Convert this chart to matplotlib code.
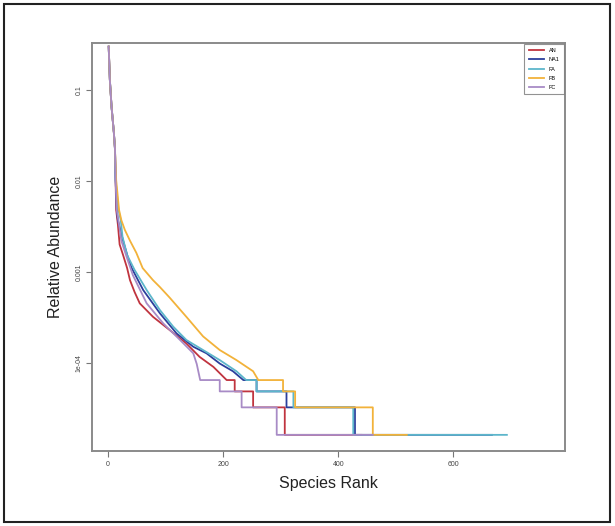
"""
Rank-abundance curves for five samples (log-scaled relative abundance).
Produces: out.png
"""
import matplotlib.pyplot as plt
from matplotlib.patches import Rectangle

# ── Data (rank, relative abundance) ──────────────────────────────────────────
samples = ["AN", "NA1", "FA", "FB", "FC"]

AN_rank = [1, 3, 6, 10, 12, 13, 14, 17, 20, 26, 33, 38, 46, 55, 78, 107, 136,
           159, 183, 206, 220, 220, 252, 252, 307, 307, 440]
AN_abund = [0.30, 0.13, 0.065, 0.034, 0.022, 0.0102, 0.0048, 0.0033, 0.0020,
            0.00153, 0.0011, 0.00081, 0.0006, 0.00045, 0.00032, 0.000229,
            0.000163, 0.000116, 0.00009, 6.45e-5, 6.45e-5, 4.84e-5, 4.84e-5,
            3.23e-5, 3.23e-5, 1.61e-5, 1.61e-5]

NA1_rank = [1, 3, 6, 10, 12, 13, 15, 17, 26, 34, 41, 61, 90, 119, 148, 171, 194,
            217, 235, 258, 258, 310, 310, 429, 429, 667]
NA1_abund = [0.30, 0.13, 0.065, 0.034, 0.022, 0.0102, 0.0048, 0.0037, 0.0022,
             0.00147, 0.0011, 0.00063, 0.00035, 0.00021, 0.00015, 0.000127,
             0.000098, 8.06e-5, 6.45e-5, 6.45e-5, 4.84e-5, 4.84e-5, 3.23e-5,
             3.23e-5, 1.61e-5, 1.61e-5]

FA_rank = [1, 3, 6, 10, 12, 13, 18, 22, 25, 33, 46, 67, 90, 113, 136, 165, 194,
           223, 240, 258, 258, 322, 322, 426, 426, 693]
FA_abund = [0.30, 0.13, 0.065, 0.034, 0.022, 0.0102, 0.0048, 0.0037, 0.00243,
            0.00153, 0.00105, 0.00063, 0.00038, 0.00025, 0.000178, 0.000138,
            0.000107, 8.06e-5, 6.45e-5, 6.45e-5, 4.84e-5, 4.84e-5, 3.23e-5,
            3.23e-5, 1.61e-5, 1.61e-5]

FB_rank = [1, 3, 6, 10, 12, 14, 19, 23, 29, 38, 49, 60, 78, 90, 107, 136, 165,
           194, 223, 252, 261, 304, 304, 325, 325, 460, 460, 519]
FB_abund = [0.30, 0.13, 0.065, 0.034, 0.022, 0.0102, 0.0048, 0.0037, 0.0029,
            0.0022, 0.00162, 0.0011, 0.00081, 0.00068, 0.00052, 0.00032,
            0.000195, 0.000138, 0.000107, 8.06e-5, 6.45e-5, 6.45e-5, 4.84e-5,
            4.84e-5, 3.23e-5, 3.23e-5, 1.61e-5, 1.61e-5]

FC_rank = [1, 3, 6, 10, 12, 13, 15, 19, 23, 32, 43, 67, 96, 125, 148, 154, 160,
           194, 194, 232, 232, 293, 293, 460]
FC_abund = [0.30, 0.13, 0.065, 0.034, 0.022, 0.0102, 0.0048, 0.0033, 0.0022,
            0.00147, 0.00092, 0.00045, 0.00027, 0.000178, 0.000127, 0.000097,
            6.45e-5, 6.45e-5, 4.84e-5, 4.84e-5, 3.23e-5, 3.23e-5, 1.61e-5,
            1.61e-5]

colors = ["#c0343f", "#2b3f9c", "#5db6cb", "#f2b23a", "#a88bc6"]

x_ticks = [0, 200, 400, 600]
y_ticks = [1e-4, 1e-3, 1e-2, 1e-1]
y_ticklabels = ["1e-04", "0.001", "0.01", "0.1"]

plt.rcParams["font.family"] = ["Liberation Sans", "DejaVu Sans"]

fig = plt.figure(figsize=(6.15, 5.26), dpi=100)
fig.patch.set_facecolor("white")
ax = fig.add_axes([0.1496, 0.1426, 0.7691, 0.7757])

series = [(AN_rank, AN_abund), (NA1_rank, NA1_abund), (FA_rank, FA_abund),
          (FB_rank, FB_abund), (FC_rank, FC_abund)]
for name, (r, a), c in zip(samples, series, colors):
    ax.plot(r, a, color=c, linewidth=1.3, label=name)

ax.set_yscale("log")
ax.set_xlim(-28, 794)
ax.set_ylim(1.07e-5, 0.329)

ax.set_xticks(x_ticks)
ax.set_xticklabels([str(t) for t in x_ticks])
ax.set_yticks(y_ticks)
ax.set_yticklabels(y_ticklabels, rotation=90, va="center")
ax.minorticks_off()
ax.tick_params(axis="both", labelsize=5, length=4, width=0.8, color="#777777",
               labelcolor="#444444", pad=3)

for s in ax.spines.values():
    s.set_color("#8a8a8a")
    s.set_linewidth(1.4)

ax.set_xlabel("Species Rank", fontsize=11.5, color="#222222", labelpad=6)
ax.set_ylabel("Relative Abundance", fontsize=11.5, color="#222222", labelpad=9)

leg = ax.legend(loc="upper right", fontsize=4, frameon=True, fancybox=False,
                borderaxespad=0.15, handlelength=2.8, handletextpad=0.8,
                labelspacing=0.75, borderpad=0.8)
leg.get_frame().set_edgecolor("#777777")
leg.get_frame().set_linewidth(0.8)

# outer border of the figure
fig.patches.append(Rectangle((4 / 615, 4 / 526), 606 / 615, 518 / 526,
                             transform=fig.transFigure, fill=False,
                             edgecolor="#222222", linewidth=1.5))

plt.savefig("out.png", dpi=100, facecolor="white")
